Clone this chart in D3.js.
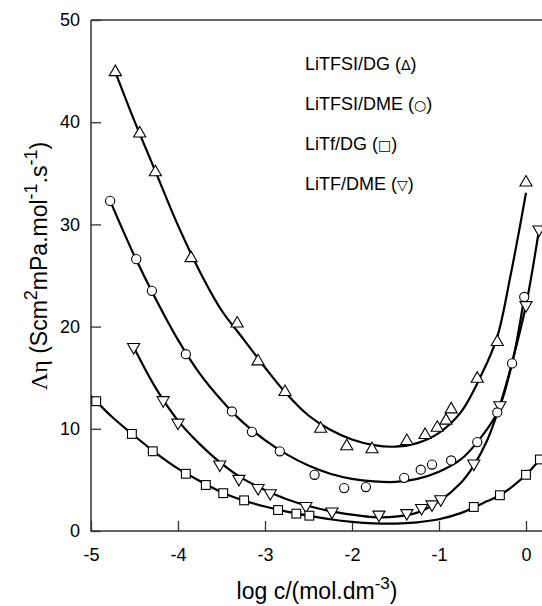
<!DOCTYPE html>
<html>
<head>
<meta charset="utf-8">
<script src="https://cdn.jsdelivr.net/npm/d3@7"></script>
<style>
  html, body { margin: 0; padding: 0; background: #fff; }
  svg { display: block; }
  text { font-family: "Liberation Sans", Arial, sans-serif; fill: #000; }
</style>
</head>
<body>
<svg id="chart" width="542" height="606"></svg>
<script>
// ---- Data ----
const xTicks = [-5, -4, -3, -2, -1, 0];
const yTicks = [0, 10, 20, 30, 40, 50];

// LiTFSI/DG (up triangles)
const tfsiDG_x = [-4.72, -4.44, -4.26, -3.85, -3.32, -3.08, -2.77, -2.36, -2.06, -1.77, -1.37, -1.16, -1.02, -0.92, -0.86, -0.56, -0.33, 0.0];
const tfsiDG_y = [44.9, 38.9, 35.1, 26.7, 20.3, 16.6, 13.6, 10.0, 8.3, 8.0, 8.8, 9.4, 10.1, 10.8, 11.9, 14.9, 18.5, 34.1];
const tfsiDG_fitX = [-4.72, -4.5, -4.25, -4.0, -3.75, -3.5, -3.25, -3.0, -2.75, -2.5, -2.25, -2.0, -1.75, -1.5, -1.25, -1.0, -0.75, -0.5, -0.33, -0.18, -0.07, 0.0];
const tfsiDG_fitY = [44.9, 40.1, 35.0, 29.9, 25.4, 21.6, 18.8, 16.0, 13.4, 11.3, 9.9, 8.95, 8.4, 8.25, 8.6, 9.6, 11.6, 15.5, 19.0, 24.9, 29.8, 33.1];

// LiTFSI/DME (circles)
const tfsiDME_x = [-4.78, -4.48, -4.30, -3.91, -3.38, -3.15, -2.83, -2.43, -2.09, -1.84, -1.40, -1.21, -1.08, -0.86, -0.56, -0.33, -0.16, -0.02];
const tfsiDME_y = [32.3, 26.6, 23.5, 17.3, 11.7, 9.7, 7.8, 5.5, 4.2, 4.3, 5.2, 6.0, 6.5, 6.9, 8.7, 11.6, 16.4, 22.9];
const tfsiDME_fitX = [-4.78, -4.5, -4.25, -4.0, -3.75, -3.5, -3.25, -3.0, -2.75, -2.5, -2.25, -2.0, -1.75, -1.5, -1.25, -1.0, -0.75, -0.56, -0.33, -0.16, -0.02];
const tfsiDME_fitY = [32.3, 26.9, 22.6, 18.7, 15.4, 12.8, 10.6, 8.9, 7.5, 6.4, 5.6, 5.1, 4.85, 4.8, 5.1, 5.8, 7.0, 8.7, 11.6, 16.4, 22.9];

// LiTf/DG (squares)
const tfDG_x = [-4.94, -4.53, -4.29, -3.91, -3.68, -3.48, -3.24, -2.85, -2.64, -2.49, -0.60, -0.30, 0.0, 0.16];
const tfDG_y = [12.7, 9.5, 7.8, 5.6, 4.5, 3.7, 3.0, 2.05, 1.7, 1.5, 2.35, 3.5, 5.5, 7.0];
const tfDG_fitX = [-5.0, -4.75, -4.5, -4.25, -4.0, -3.75, -3.5, -3.25, -3.0, -2.75, -2.5, -2.25, -2.0, -1.75, -1.5, -1.25, -1.0, -0.75, -0.6, -0.45, -0.3, -0.15, 0.0, 0.2];
const tfDG_fitY = [13.2, 11.1, 9.3, 7.6, 6.1, 4.9, 3.8, 3.0, 2.4, 1.9, 1.5, 1.15, 0.9, 0.75, 0.72, 0.85, 1.15, 1.75, 2.3, 2.9, 3.5, 4.4, 5.5, 7.4];

// LiTF/DME (down triangles)
const tfDME_x = [-4.51, -4.17, -4.00, -3.52, -3.30, -3.08, -2.94, -2.53, -2.23, -1.69, -1.37, -1.20, -1.08, -0.98, -0.60, -0.30, 0.0, 0.15];
const tfDME_y = [18.0, 12.8, 10.6, 6.5, 5.1, 4.2, 3.7, 2.45, 1.9, 1.6, 1.75, 2.25, 2.6, 3.1, 6.6, 12.3, 22.1, 29.5];
const tfDME_fitX = [-4.51, -4.25, -4.0, -3.75, -3.5, -3.25, -3.0, -2.75, -2.5, -2.25, -2.0, -1.75, -1.5, -1.25, -1.0, -0.75, -0.6, -0.45, -0.3, -0.15, 0.0, 0.15];
const tfDME_fitY = [18.0, 13.9, 10.8, 8.5, 6.6, 5.1, 4.0, 3.1, 2.45, 1.95, 1.6, 1.35, 1.4, 1.8, 2.9, 4.7, 6.4, 8.8, 12.3, 16.8, 22.1, 29.5];

const legendNames = ["LiTFSI/DG", "LiTFSI/DME", "LiTf/DG", "LiTF/DME"];
const legendSymbols = ["Δ", "○", "□", "▽"];

// ---- Chart ----
const svg = d3.select("#chart");
const x = d3.scaleLinear().domain([-5, 0]).range([91, 526]);
const y = d3.scaleLinear().domain([0, 50]).range([531, 20]);

svg.append("defs").append("clipPath").attr("id", "plotclip")
  .append("rect").attr("x", 91).attr("y", 20).attr("width", 460).attr("height", 511);

// axes (ticks inward)
const axisColor = "#333";
const xAxis = svg.append("g").attr("transform", `translate(0,${y(0)})`)
  .call(d3.axisBottom(x).tickValues(xTicks).tickSize(-10).tickPadding(17).tickFormat(d3.format("d")));
const yAxis = svg.append("g").attr("transform", `translate(${x(-5)},0)`)
  .call(d3.axisLeft(y).tickValues(yTicks).tickSize(-10).tickPadding(11).tickFormat(d3.format("d")));
[xAxis, yAxis].forEach(g => {
  g.select(".domain").remove();
  g.selectAll(".tick line").attr("stroke", axisColor).attr("stroke-width", 1.3);
  g.selectAll(".tick text").style("font-size", "18px").attr("fill", "#000")
    .style("font-family", '"Liberation Sans", Arial, sans-serif');
});
xAxis.selectAll(".tick text").text(d => d < 0 ? "-" + Math.abs(d) : d);

// frame (left, bottom, top)
svg.append("path")
  .attr("d", `M${x(-5)},${y(50)} V${y(0)} H542 M${x(-5)},${y(50)} H542`)
  .attr("fill", "none").attr("stroke", axisColor).attr("stroke-width", 1.5);

const plot = svg.append("g").attr("clip-path", "url(#plotclip)");

const line = d3.line().x(d => x(d[0])).y(d => y(d[1])).curve(d3.curveCatmullRom.alpha(0.5));
const fits = [
  [tfsiDG_fitX, tfsiDG_fitY],
  [tfsiDME_fitX, tfsiDME_fitY],
  [tfDG_fitX, tfDG_fitY],
  [tfDME_fitX, tfDME_fitY]
];
fits.forEach(([fx, fy]) => {
  plot.append("path").datum(d3.zip(fx, fy)).attr("d", line)
    .attr("fill", "none").attr("stroke", "#000").attr("stroke-width", 2.2);
});

const markerStyle = sel => sel.attr("fill", "#fff").attr("stroke", "#000").attr("stroke-width", 1.1);
const symUp = d3.symbol().type(d3.symbolTriangle).size(64);
// up triangles
plot.selectAll(".tu").data(d3.zip(tfsiDG_x, tfsiDG_y)).join("path")
  .attr("d", symUp).attr("transform", d => `translate(${x(d[0])},${y(d[1])})`).call(markerStyle);
// down triangles
plot.selectAll(".td").data(d3.zip(tfDME_x, tfDME_y)).join("path")
  .attr("d", symUp).attr("transform", d => `translate(${x(d[0])},${y(d[1])}) rotate(180)`).call(markerStyle);
// circles
plot.selectAll(".c").data(d3.zip(tfsiDME_x, tfsiDME_y)).join("circle")
  .attr("cx", d => x(d[0])).attr("cy", d => y(d[1])).attr("r", 4.6).call(markerStyle);
// squares
plot.selectAll(".s").data(d3.zip(tfDG_x, tfDG_y)).join("rect")
  .attr("x", d => x(d[0]) - 4.4).attr("y", d => y(d[1]) - 4.4)
  .attr("width", 8.8).attr("height", 8.8).call(markerStyle);

// legend text
const leg = svg.selectAll(".leg").data(d3.zip(legendNames, legendSymbols)).join("text")
  .attr("x", 305).attr("y", (d, i) => 70 + i * 40)
  .style("font-size", "18px");
leg.append("tspan").text(d => d[0] + " (");
leg.append("tspan").style("font-family", '"DejaVu Sans", sans-serif').style("font-size", "14px")
  .style("font-weight", "normal").text(d => d[1]);
leg.append("tspan").text(")");

// axis titles
const xt = svg.append("text").attr("x", 317).attr("y", 599).attr("text-anchor", "middle").style("font-size", "23px");
xt.append("tspan").text("log c/(mol.dm");
xt.append("tspan").attr("dy", -10).style("font-size", "17px").text("-3");
xt.append("tspan").attr("dy", 10).text(")");

const yt = svg.append("text").attr("transform", "translate(47,266) rotate(-90)")
  .attr("text-anchor", "middle").style("font-size", "23px");
yt.append("tspan").style("font-family", '"Liberation Serif", "Times New Roman", serif').style("font-size", "24px").text("Λη");
yt.append("tspan").text(" (Scm");
yt.append("tspan").attr("dy", -10).style("font-size", "18px").text("2");
yt.append("tspan").attr("dy", 10).text("mPa.mol");
yt.append("tspan").attr("dy", -10).style("font-size", "18px").text("-1");
yt.append("tspan").attr("dy", 10).text(".s");
yt.append("tspan").attr("dy", -10).style("font-size", "18px").text("-1");
yt.append("tspan").attr("dy", 10).text(")");
</script>
</body>
</html>
